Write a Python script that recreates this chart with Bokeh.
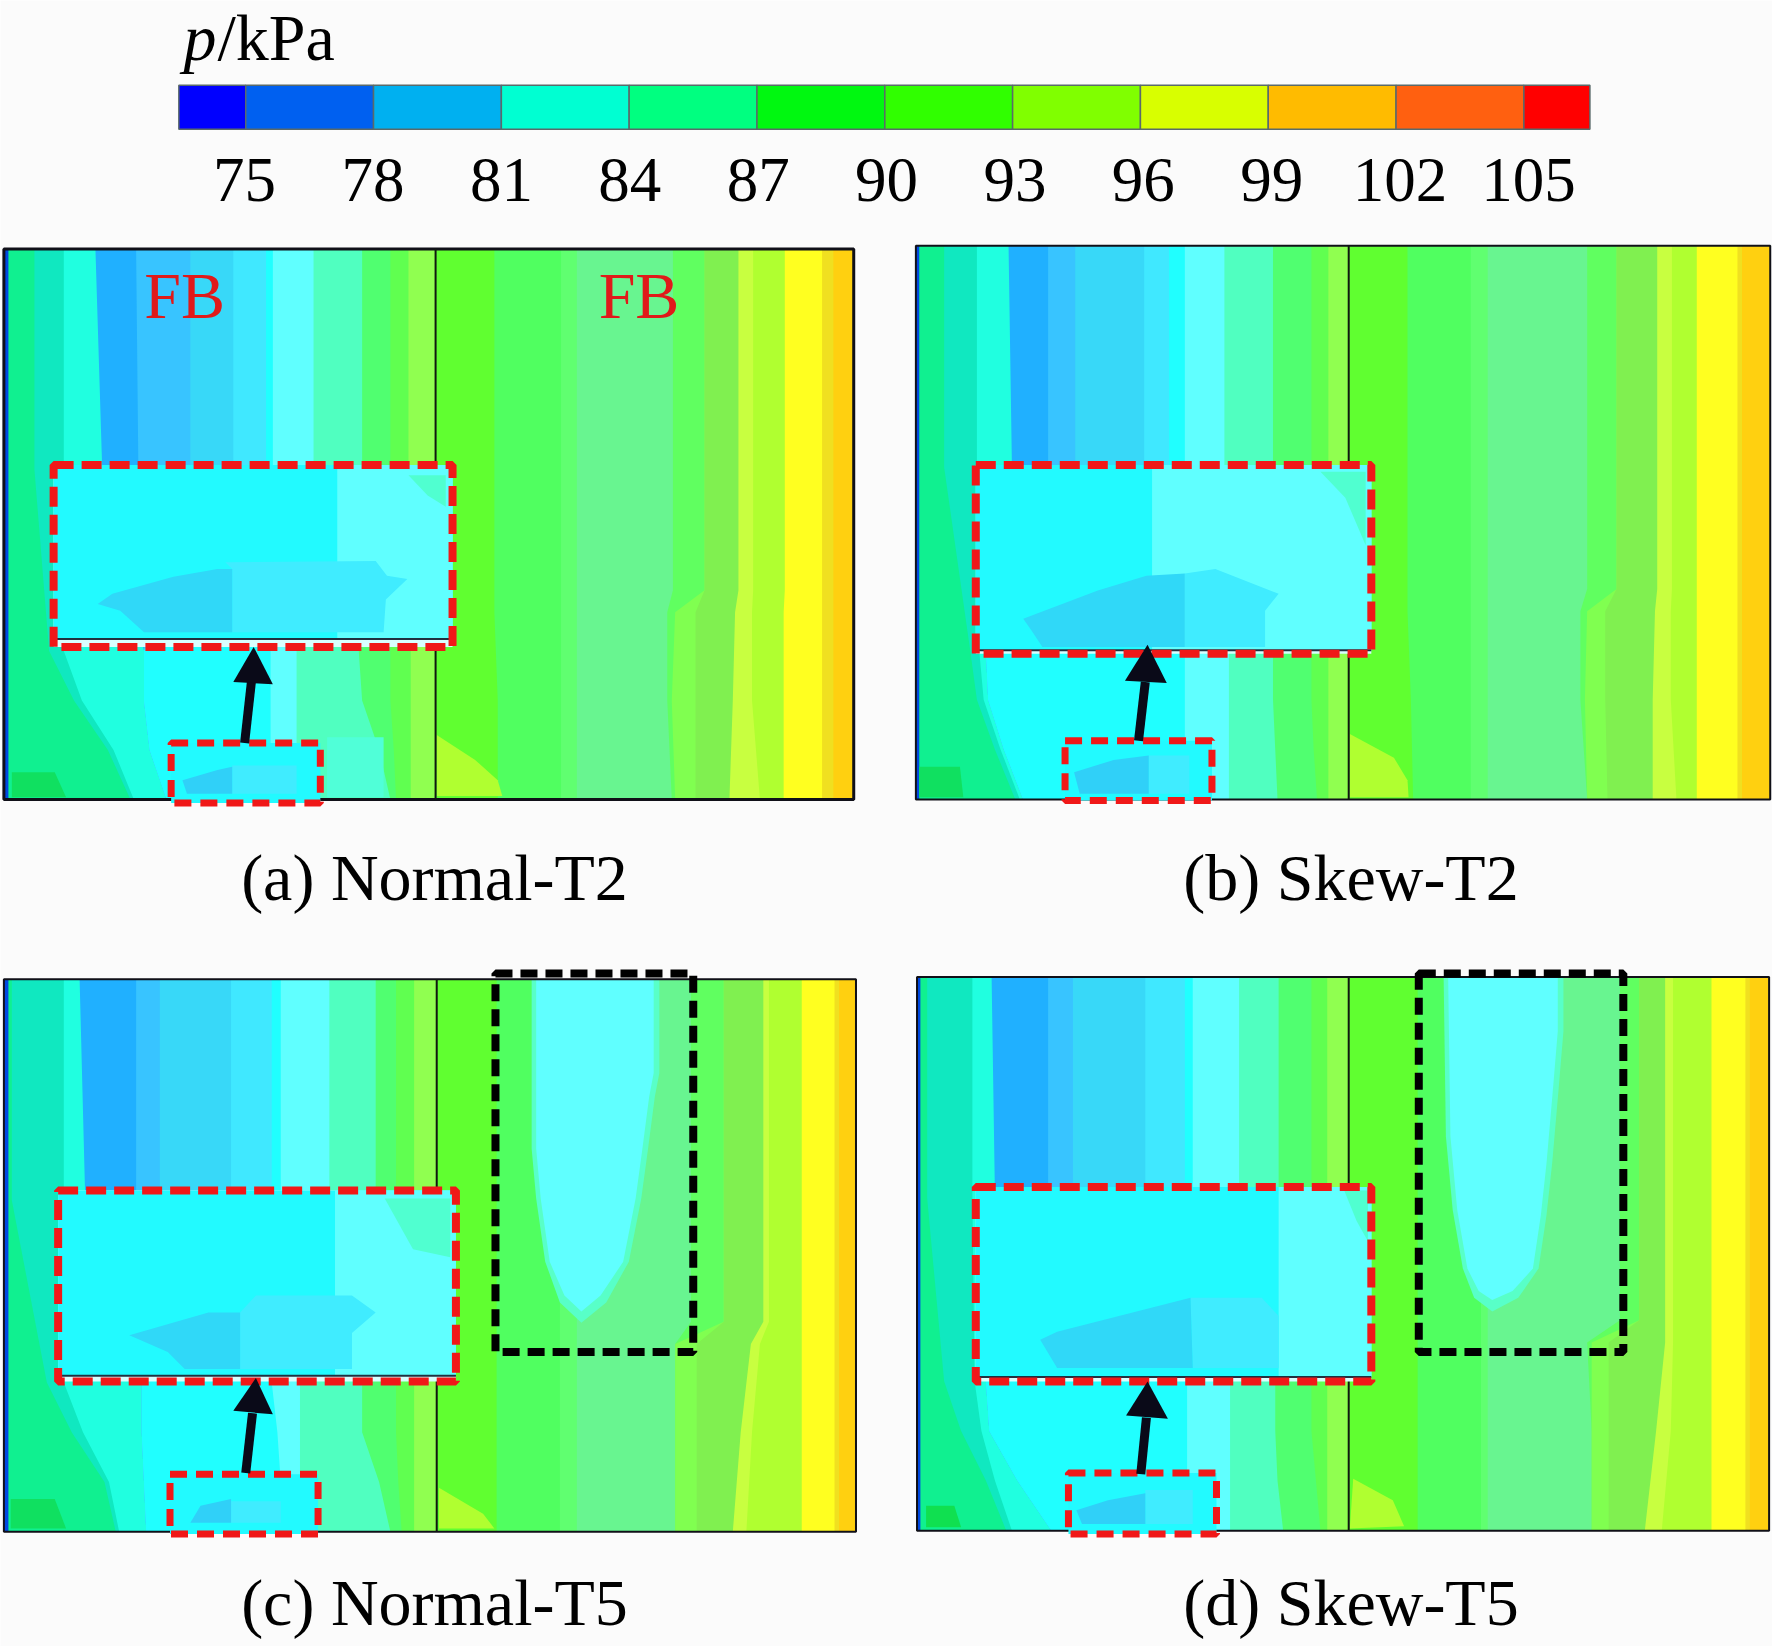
from bokeh.plotting import figure
from bokeh.models import Range1d
from bokeh.core.properties import value
from bokeh.embed import file_html
from bokeh.resources import INLINE

# ---- colour bar ----
bar_levels = [75, 78, 81, 84, 87, 90, 93, 96, 99, 102, 105]
bar_edges = [73.43, 75, 78, 81, 84, 87, 90, 93, 96, 99, 102, 105, 106.55]
bar_colors = ["#0000ff", "#0060f0", "#00b0f0", "#00ffd2", "#00ff80", "#00f810", "#30ff00",
              "#80ff00", "#d8ff00", "#ffbb00", "#ff6010", "#ff0000"]
BAR_X75, BAR_XPER = 217.0, 37.7
LABEL_X75, LABEL_XPER = 216.0, 37.87
BAR_T, BAR_B = 75, 114

# ---- contour bands: left edge of every band at each height fraction ----
STATIONS_LEFT = [0.0, 0.40, 0.73, 0.82, 0.91, 1.0]
STATIONS_RIGHT = [0.0, 0.62, 0.66, 0.82, 1.0]
COLORS_LEFT = ["#0048e0", "#10f090", "#10e8c0", "#20ffe0", "#20b0ff", "#38c4ff", "#38d8f8", "#40e8ff",
               "#20ffff", "#60ffff", "#50ffc0", "#50ff70", "#60ff50", "#90ff50"]
COLORS_RIGHT = ["#60ff30", "#50ff60", "#60ff70", "#68f590", "#60ff60", "#80ff50", "#80f050",
                "#c8ff40", "#b0ff30", "#ffff20", "#f0e020", "#ffd010"]

panel_left = [3, 810, 3, 811]
panel_right = [755, 1566, 757, 1565]
panel_top = [220, 217, 866, 864]
panel_bottom = [707, 707, 1355, 1354]
panel_divider = [385, 1193, 386, 1193]
panel_outline_w = [3, 2, 2, 2]

left_a = [
    [3, 3, 3, 3, 3, 3], [7, 7, 7, 7, 7, 7], [30, 30, 43, 65, 95, 115], [56, 56, 56, 72, 100, 118],
    [84, 90, 127, 127, 132, 147], [120, 122, 127, 127, 132, 147], [168, 168, 127, 127, 132, 147],
    [206, 206, 127, 127, 132, 147], [235, 235, 127, 127, 132, 147], [241, 241, 239, 239, 239, 239],
    [277, 277, 262, 262, 262, 262], [320, 320, 317, 320, 335, 345], [345, 345, 345, 345, 348, 350],
    [361, 361, 363, 363, 363, 363]]
right_a = [
    [385, 385, 385, 385, 385], [437, 437, 437, 440, 440], [496, 496, 496, 496, 496], [510, 510, 510, 510, 510],
    [595, 595, 590, 590, 594], [623, 623, 597, 594, 597], [623, 623, 615, 615, 615],
    [653, 653, 650, 648, 645], [666, 666, 665, 665, 672], [694, 694, 693, 693, 693], [727, 727, 727, 727, 727],
    [737, 737, 737, 737, 737]]
left_b = [
    [810, 810, 810, 810, 810, 810], [813, 813, 813, 813, 813, 813], [835, 835, 858, 864, 880, 898],
    [864, 864, 866, 870, 885, 902], [892, 895, 872, 874, 888, 905], [927, 927, 872, 874, 888, 905],
    [951, 951, 872, 874, 888, 905], [1012, 1012, 872, 874, 888, 905], [1034, 1034, 872, 874, 888, 905],
    [1048, 1048, 1048, 1048, 1048, 1048], [1083, 1083, 1087, 1087, 1087, 1087],
    [1126, 1126, 1126, 1126, 1128, 1130], [1160, 1160, 1160, 1160, 1162, 1165], [1175, 1175, 1175, 1175, 1175, 1175]]
right_b = [
    [1193, 1193, 1193, 1193, 1193], [1245, 1245, 1245, 1248, 1250], [1301, 1301, 1301, 1301, 1301],
    [1316, 1316, 1316, 1316, 1316], [1404, 1404, 1398, 1398, 1404], [1430, 1430, 1404, 1402, 1404],
    [1430, 1430, 1420, 1420, 1422], [1466, 1466, 1464, 1462, 1462], [1479, 1479, 1478, 1478, 1483],
    [1501, 1501, 1501, 1501, 1501], [1537, 1537, 1537, 1537, 1537], [1541, 1541, 1541, 1541, 1541]]
left_c = [
    [3, 3, 3, 3, 3, 3], [7, 7, 7, 7, 7, 7], [10, 10, 41, 63, 92, 102], [56, 56, 56, 73, 96, 105],
    [70, 75, 125, 125, 127, 129], [120, 120, 125, 125, 127, 129], [141, 141, 125, 125, 127, 129],
    [204, 204, 125, 125, 127, 129], [240, 240, 125, 125, 127, 129], [248, 248, 240, 245, 248, 248],
    [291, 291, 265, 265, 265, 265], [332, 332, 320, 320, 335, 345], [350, 350, 350, 350, 352, 355],
    [366, 366, 366, 366, 366, 366]]
right_c = [
    [386, 386, 386, 386, 386], [439, 439, 439, 439, 439], [495, 495, 495, 495, 495], [510, 510, 510, 510, 510],
    [611, 611, 597, 597, 597], [640, 640, 597, 597, 597], [640, 640, 616, 616, 616],
    [675, 675, 664, 655, 648], [680, 680, 672, 665, 660], [709, 709, 709, 709, 709], [738, 738, 738, 738, 738],
    [742, 742, 742, 742, 742]]
left_d = [
    [811, 811, 811, 811, 811, 811], [814, 814, 814, 814, 814, 814], [820, 820, 835, 850, 872, 890],
    [860, 860, 862, 868, 880, 895], [877, 880, 872, 875, 900, 930], [927, 927, 872, 875, 900, 930],
    [949, 949, 872, 875, 900, 930], [1013, 1013, 872, 875, 900, 930], [1048, 1048, 872, 875, 900, 930],
    [1055, 1055, 1050, 1050, 1050, 1050], [1096, 1096, 1088, 1088, 1088, 1088],
    [1131, 1131, 1128, 1128, 1130, 1135], [1160, 1160, 1160, 1160, 1164, 1168], [1174, 1174, 1174, 1174, 1174, 1174]]
right_d = [
    [1193, 1193, 1193, 1193, 1193], [1254, 1254, 1254, 1254, 1254], [1310, 1310, 1310, 1310, 1310],
    [1316, 1316, 1316, 1316, 1316], [1433, 1433, 1404, 1408, 1408], [1450, 1450, 1408, 1408, 1408],
    [1450, 1450, 1423, 1423, 1423], [1473, 1473, 1473, 1465, 1455], [1480, 1480, 1480, 1478, 1470],
    [1514, 1514, 1514, 1514, 1514], [1544, 1544, 1544, 1544, 1544], [1548, 1548, 1548, 1548, 1548]]
panel_left_bands = [left_a, left_b, left_c, left_d]
panel_right_bands = [right_a, right_b, right_c, right_d]

# ---- local features on top of the bands: corner cells and the low-pressure tongues ----
feature_colors = ["#10e060", "#b0ff30", "#50ffd8",
                  "#10e060", "#b0ff30",
                  "#10e060", "#b0ff30",
                  "#10e050", "#b0ff30",
                  "#58ffc8", "#60ffff", "#58ffc8", "#60ffff"]
feature_xs = [[10, 48, 58, 10], [386, 420, 440, 444, 386], [289, 339, 339, 289],
              [813, 849, 852, 813], [1194, 1233, 1245, 1246, 1194],
              [9, 48, 58, 9], [388, 427, 437, 388],
              [819, 844, 850, 819], [1197, 1232, 1242, 1194],
              [470, 470, 474, 482, 495, 514, 536, 556, 567, 573, 579, 583, 583],
              [474, 474, 478, 486, 499, 514, 531, 551, 562, 568, 574, 578, 578],
              [1277, 1279, 1285, 1294, 1304, 1320, 1343, 1361, 1368, 1373, 1379, 1383, 1383],
              [1281, 1283, 1289, 1298, 1308, 1320, 1338, 1356, 1363, 1368, 1374, 1378, 1378]]
feature_ys = [[683, 683, 705, 705], [650, 672, 690, 704, 704], [652, 652, 705, 705],
              [678, 678, 705, 705], [649, 670, 690, 705, 705],
              [1326, 1326, 1352, 1352], [1316, 1339, 1352, 1352],
              [1332, 1332, 1351, 1351], [1308, 1327, 1350, 1352],
              [866, 1016, 1060, 1116, 1152, 1170, 1152, 1116, 1060, 1016, 970, 949, 866],
              [866, 1016, 1060, 1116, 1146, 1160, 1146, 1116, 1060, 1016, 970, 949, 866],
              [864, 1005, 1070, 1122, 1148, 1160, 1148, 1122, 1075, 1029, 960, 912, 864],
              [864, 1005, 1070, 1122, 1142, 1150, 1142, 1122, 1075, 1029, 960, 912, 864]]

# ---- red zoom boxes ----
big_left = [47, 863, 51, 863]
big_right = [400, 1213, 403, 1213]
big_top = [411, 411, 1053, 1050]
big_bottom = [572, 578, 1222, 1222]
big_inner_bottom = [565, 575, 1217, 1218]
big_light_x = [298, 1019, 296, 1131]
big_corner_xs = [[361, 394, 394, 378], [1168, 1208, 1208, 1190], [340, 398, 398, 365], [1189, 1210, 1210, 1200]]
big_corner_ys = [[420, 420, 448, 438], [417, 417, 482, 440], [1060, 1060, 1112, 1105], [1053, 1053, 1098, 1080]]
big_dark_xs = [[86, 99, 153, 192, 205, 205, 127, 106], [905, 971, 1014, 1048, 1048, 922, 912],
               [114, 184, 212, 212, 163, 148], [920, 935, 1053, 1055, 935]]
big_dark_ys = [[534, 525, 510, 503, 503, 559, 559, 540], [547, 522, 509, 507, 572, 572, 557],
               [1181, 1161, 1161, 1211, 1211, 1196], [1185, 1178, 1148, 1210, 1210]]
big_mid_xs = [[199, 332, 342, 360, 341, 339, 205, 205], [1048, 1075, 1131, 1119, 1119, 1048],
              [212, 226, 311, 332, 311, 311, 212], [1053, 1116, 1131, 1131, 1055]]
big_mid_ys = [[497, 496, 509, 512, 530, 559, 559, 503], [507, 503, 525, 540, 572, 572],
              [1161, 1146, 1146, 1161, 1179, 1211, 1211], [1148, 1148, 1164, 1210, 1210]]

small_left = [151, 942, 150, 945]
small_right = [283, 1072, 281, 1076]
small_top = [657, 655, 1304, 1303]
small_bottom = [710, 708, 1357, 1357]
small_dark_xs = [[161, 192, 205, 205, 165], [950, 985, 1016, 1016, 955], [177, 204, 204, 168], [952, 980, 1013, 1013, 957]]
small_dark_ys = [[690, 681, 678, 702, 702], [683, 672, 668, 702, 702], [1332, 1326, 1347, 1347], [1336, 1327, 1321, 1348, 1348]]
small_mid_left = [205, 1016, 204, 1013]
small_mid_right = [262, 1052, 248, 1055]
small_mid_top = [677, 668, 1328, 1318]
small_mid_bottom = [702, 702, 1347, 1348]

# ---- black dashed boxes (T5 only) ----
black_left = [438, 1255]
black_right = [613, 1436]
black_top = [861, 861]
black_bottom = [1196, 1196]

# ---- arrows ----
arrow_tail_x = [216, 1007, 217, 1009]
arrow_tail_y = [657, 655, 1303, 1304]
arrow_neck_x = [222, 1013, 223, 1014]
arrow_neck_y = [603, 603, 1250, 1254]
arrow_tip_x = [224, 1015, 226, 1015]
arrow_tip_y = [572, 570, 1219, 1222]
arrow_base1_x = [206, 995, 206, 996]
arrow_base1_y = [603, 602, 1248, 1252]
arrow_base2_x = [241, 1032, 241, 1033]
arrow_base2_y = [605, 604, 1251, 1255]

# ---- texts ----
caption_text = ["(a) Normal-T2", "(b) Skew-T2", "(c) Normal-T5", "(d) Skew-T5"]
caption_x = [384, 1195, 384, 1195]
caption_y = [776, 776, 1418, 1418]
fb_text = ["FB", "FB"]
fb_x = [163, 565]
fb_y = [261, 261]

SERIF = value("Liberation Serif")
p = figure(width=1772, height=1646, output_backend="svg", toolbar_location=None,
           x_range=Range1d(0, 1568), y_range=Range1d(1456.5, 0),
           min_border=0, outline_line_color=None, background_fill_color="#fbfbfb",
           border_fill_color="#fbfbfb")
p.axis.visible = False
p.grid.visible = False

# colour bar, placed through the pressure scale
bx = [BAR_X75 + (v - 75) * BAR_XPER for v in bar_edges]
p.quad(left=bx[:-1], right=bx[1:], top=BAR_T, bottom=BAR_B, fill_color=bar_colors,
       line_color="#5a6a6a", line_width=1.5)
p.text(x=[LABEL_X75 + (v - 75) * LABEL_XPER for v in bar_levels], y=[159] * len(bar_levels),
       text=[str(v) for v in bar_levels], text_font=SERIF, text_font_size="63px",
       text_align="center", text_baseline="middle", text_color="#000000")
p.text(x=[162], y=[33], text=["p"], text_font=SERIF, text_font_style="italic", text_font_size="66px",
       text_align="left", text_baseline="middle", text_color="#000000")
p.text(x=[192], y=[33], text=["/kPa"], text_font=SERIF, text_font_size="66px",
       text_align="left", text_baseline="middle", text_color="#000000")

# contour fields
for i in range(4):
    L, R, T, B = panel_left[i], panel_right[i], panel_top[i], panel_bottom[i]
    for rows, stations, colors in ((panel_left_bands[i], STATIONS_LEFT, COLORS_LEFT),
                                   (panel_right_bands[i], STATIONS_RIGHT, COLORS_RIGHT)):
        ys = [T + f * (B - T) for f in stations]
        p.patches([list(row) + [R, R] for row in rows], [ys + [B, T] for _ in rows],
                  fill_color=colors, line_color=None)

p.patches(feature_xs, feature_ys, fill_color=feature_colors, line_color=None)

# panel frames and dividers
p.quad(left=panel_left, right=panel_right, top=panel_top, bottom=panel_bottom,
       fill_color=None, line_color="#101018", line_width=panel_outline_w)
p.segment(x0=panel_divider, x1=panel_divider, y0=panel_top, y1=panel_bottom,
          line_color="#101810", line_width=2)

# big red boxes
p.quad(left=big_left, right=big_right, top=big_top, bottom=big_bottom,
       fill_color="#d8ffff", line_color=None)
p.quad(left=big_left, right=big_right, top=big_top, bottom=big_inner_bottom,
       fill_color="#22faff", line_color=None)
p.quad(left=big_light_x, right=big_right, top=big_top, bottom=big_inner_bottom,
       fill_color="#60ffff", line_color=None)
p.patches(big_corner_xs, big_corner_ys, fill_color="#50ffd0", line_color=None)
p.patches(big_mid_xs, big_mid_ys, fill_color="#40ecff", line_color=None)
p.patches(big_dark_xs, big_dark_ys, fill_color="#30d8f8", line_color=None)
p.segment(x0=big_left, x1=big_right, y0=big_inner_bottom, y1=big_inner_bottom,
          line_color="#203040", line_width=2)
p.quad(left=big_left, right=big_right, top=big_top, bottom=big_bottom, fill_color=None,
       line_color="#f01818", line_width=8, line_dash="20 8")

# small source boxes
p.quad(left=small_left, right=small_right, top=small_top, bottom=small_bottom,
       fill_color="#22faff", line_color=None)
p.quad(left=small_mid_left, right=small_mid_right, top=small_mid_top, bottom=small_mid_bottom,
       fill_color="#40ecff", line_color=None)
p.patches(small_dark_xs, small_dark_ys, fill_color="#30d0f8", line_color=None)
p.quad(left=small_left, right=small_right, top=small_top, bottom=small_bottom, fill_color=None,
       line_color="#f01818", line_width=7, line_dash="17 9")

# arrows
p.segment(x0=arrow_tail_x, y0=arrow_tail_y, x1=arrow_neck_x, y1=arrow_neck_y,
          line_color="#0a0a18", line_width=9)
p.patches([[a, b, c] for a, b, c in zip(arrow_tip_x, arrow_base1_x, arrow_base2_x)],
          [[a, b, c] for a, b, c in zip(arrow_tip_y, arrow_base1_y, arrow_base2_y)],
          fill_color="#0a0a18", line_color=None)

# black dashed boxes
p.quad(left=black_left, right=black_right, top=black_top, bottom=black_bottom, fill_color=None,
       line_color="#000000", line_width=8, line_dash="17 8")

# labels
p.text(x=fb_x, y=fb_y, text=fb_text, text_font=SERIF, text_font_size="66px", text_align="center",
       text_baseline="middle", text_color="#e01a1a")
p.text(x=caption_x, y=caption_y, text=caption_text, text_font=SERIF, text_font_size="66px",
       text_align="center", text_baseline="middle", text_color="#000000")

open("out.html", "w").write(file_html(p, INLINE))
